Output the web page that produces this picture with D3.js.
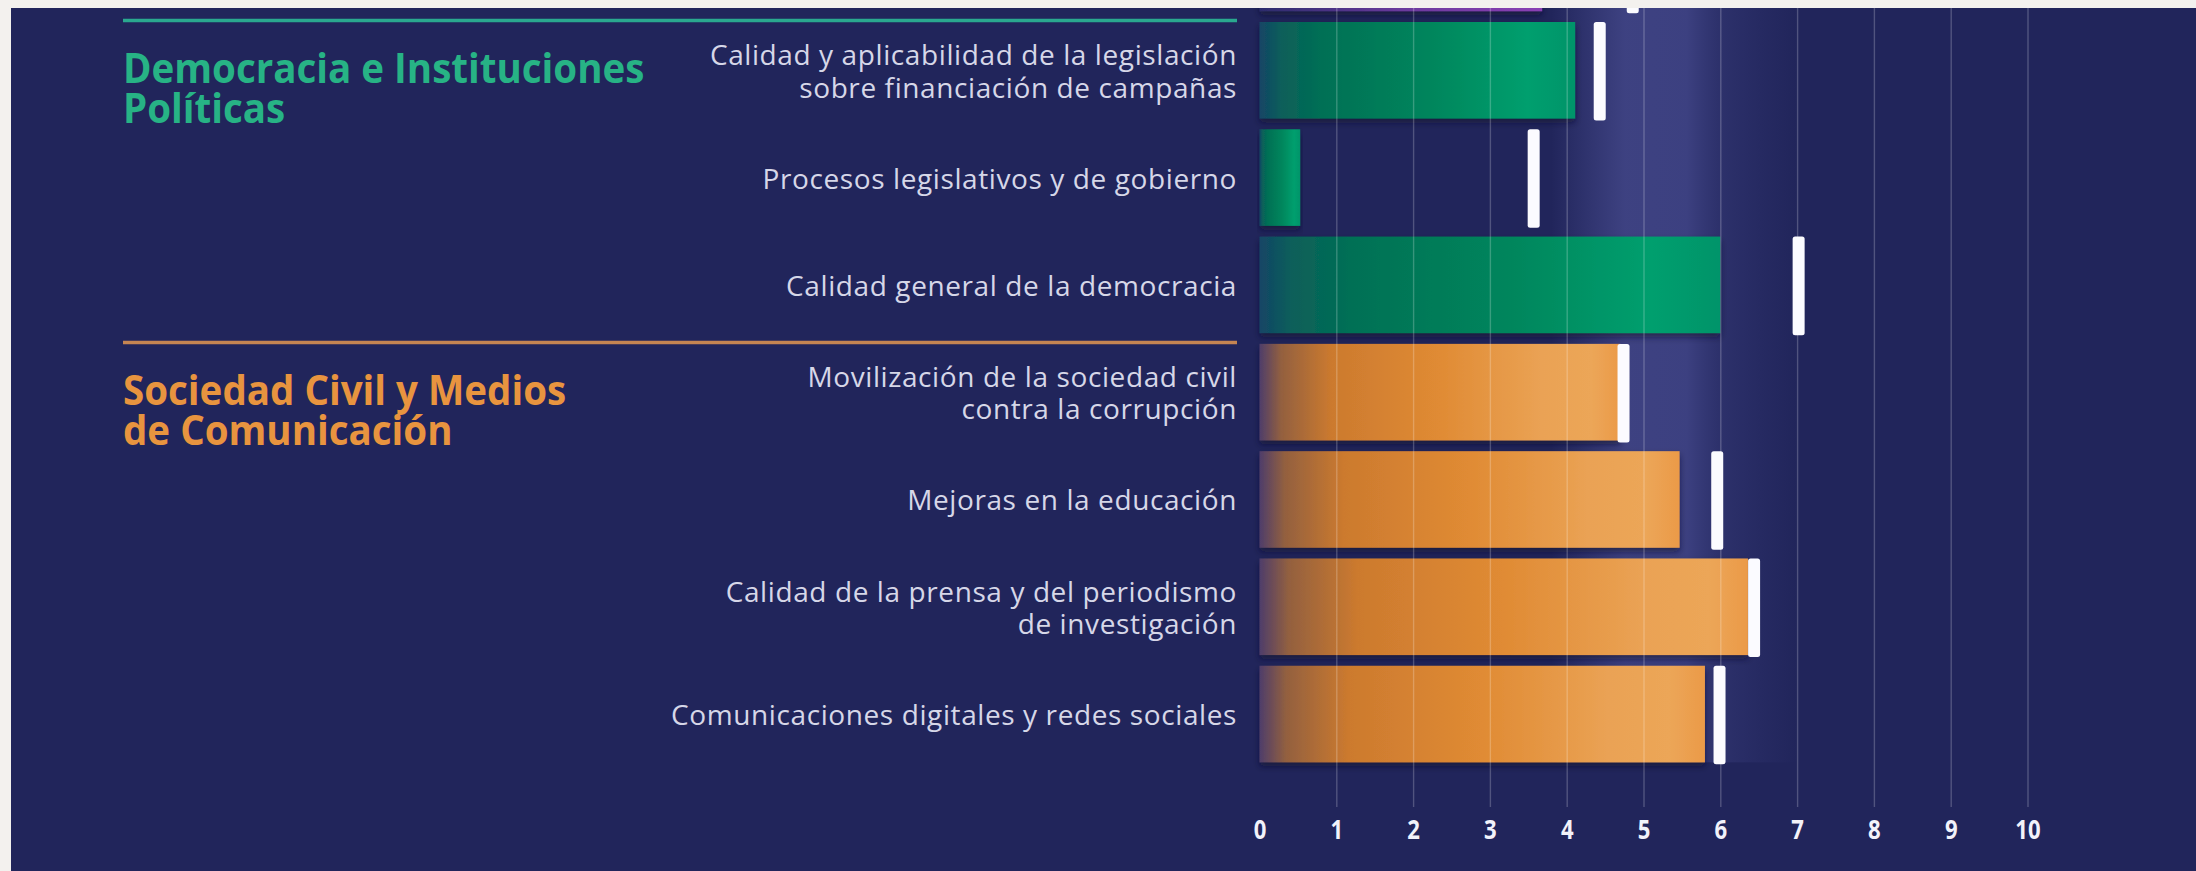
<!DOCTYPE html>
<html>
<head>
<meta charset="utf-8">
<script src="https://cdn.jsdelivr.net/npm/d3@7"></script>
<style>
  html, body { margin: 0; padding: 0; background: #f3f1ee; }
  svg { display: block; }
</style>
</head>
<body>
<div id="chart"></div>
<script>
// ------------------------------------------------------------
// 1. Data
// ------------------------------------------------------------
// first row is the tail of the block above, its label is cut off
const categories = [
  "",
  "Calidad y aplicabilidad de la legislación sobre financiación de campañas",
  "Procesos legislativos y de gobierno",
  "Calidad general de la democracia",
  "Movilización de la sociedad civil contra la corrupción",
  "Mejoras en la educación",
  "Calidad de la prensa y del periodismo de investigación",
  "Comunicaciones digitales y redes sociales"
];
const labelLines = [
  [],
  ["Calidad y aplicabilidad de la legislación", "sobre financiación de campañas"],
  ["Procesos legislativos y de gobierno"],
  ["Calidad general de la democracia"],
  ["Movilización de la sociedad civil", "contra la corrupción"],
  ["Mejoras en la educación"],
  ["Calidad de la prensa y del periodismo", "de investigación"],
  ["Comunicaciones digitales y redes sociales"]
];
const groupOf = ["previo", "democracia", "democracia", "democracia",
                 "sociedad", "sociedad", "sociedad", "sociedad"];
const groups = ["democracia", "sociedad"];
const groupTitles = [
  ["Democracia e Instituciones", "Políticas"],
  ["Sociedad Civil y Medios", "de Comunicación"]
];
const scores = [3.68, 4.11, 0.53, 6.0, 4.7, 5.47, 6.36, 5.8];
const benchmarks = [4.86, 4.43, 3.57, 7.02, 4.74, 5.96, 6.44, 5.99];
const tickValues = [0, 1, 2, 3, 4, 5, 6, 7, 8, 9, 10];

// ------------------------------------------------------------
// 2. Setup
// ------------------------------------------------------------
const width = 2196;
const height = 871;
const panel = { x: 11, y: 8 };
const labelRight = 1237;
const gridBottom = 807;

const navy = "#21255b";
const groupColor = { democracia: "#27b385", sociedad: "#e8943f" };
const lineColor = { democracia: "#2aa88f", sociedad: "#c58552" };
const barFill = { previo: "url(#gPurple)", democracia: "url(#gGreen)", sociedad: "url(#gOrange)" };

const x = d3.scaleLinear().domain([0, 10]).range([1259.5, 2027.5]);
const y = d3.scaleBand()
  .domain(categories.map((d, i) => i))
  .range([-90.67, 767.7])
  .paddingInner(0.1)
  .paddingOuter(0.05);

const svg = d3.select("#chart").append("svg")
  .attr("width", width)
  .attr("height", height);

const defs = svg.append("defs");

defs.append("clipPath").attr("id", "panelClip")
  .append("rect")
  .attr("x", panel.x).attr("y", panel.y)
  .attr("width", width - panel.x).attr("height", height - panel.y);

// bar gradients follow each bar's own length (bounding box units)
function gradient(id, stops, x1, x2) {
  const g = defs.append("linearGradient").attr("id", id);
  if (x1 !== undefined) {
    g.attr("gradientUnits", "userSpaceOnUse")
      .attr("x1", x1).attr("x2", x2).attr("y1", 0).attr("y2", 0);
  }
  stops.forEach(s => {
    g.append("stop").attr("offset", s[0]).attr("stop-color", s[1])
      .attr("stop-opacity", s[2] === undefined ? 1 : s[2]);
  });
}

gradient("gGreen", [
  [0, "#144566"], [0.07, "#0b5f5a"], [0.2, "#007055"],
  [0.55, "#00865c"], [0.85, "#009f6e"], [1, "#00946a"]
]);
gradient("gOrange", [
  [0, "#4e3d6a"], [0.06, "#93603f"], [0.2, "#cc7a2e"],
  [0.5, "#e08b34"], [0.78, "#eaa254"], [0.92, "#eca658"], [1, "#eb9a48"]
]);
gradient("gPurple", [
  [0, "#2c2c6c"], [0.5, "#6a3a9c"], [1, "#8a40b4"]
]);
gradient("gGlow", [
  [0, "#4a4e92", 0], [0.3, "#474b8e", 0.75], [0.55, "#43478a", 0.8],
  [0.68, "#3c4080", 0.45], [0.85, "#3a3e7e", 0.2], [1, "#3a3e7e", 0]
], x(3.8), x(7));

const shadow = defs.append("filter").attr("id", "shadow")
  .attr("x", "-5%").attr("y", "-20%").attr("width", "110%").attr("height", "150%");
shadow.append("feDropShadow")
  .attr("dx", 0).attr("dy", 4).attr("stdDeviation", 3)
  .attr("flood-color", "#0c0e2e").attr("flood-opacity", 0.6);

// ------------------------------------------------------------
// 3. Background panel and glow
// ------------------------------------------------------------
svg.append("rect")
  .attr("x", panel.x).attr("y", panel.y)
  .attr("width", width - panel.x).attr("height", height - panel.y)
  .attr("fill", navy);

const plot = svg.append("g").attr("clip-path", "url(#panelClip)");

plot.append("rect")
  .attr("x", x(3.8)).attr("y", panel.y)
  .attr("width", x(7) - x(3.8))
  .attr("height", y(categories.length - 1) + y.bandwidth() - panel.y)
  .attr("fill", "url(#gGlow)");

// ------------------------------------------------------------
// 4. Bars, grid, markers
// ------------------------------------------------------------
plot.append("g").selectAll("rect")
  .data(scores)
  .join("rect")
  .attr("x", x(0))
  .attr("y", (d, i) => y(i))
  .attr("width", d => x(d) - x(0))
  .attr("height", y.bandwidth())
  .attr("fill", (d, i) => barFill[groupOf[i]])
  .attr("filter", "url(#shadow)");

// grid lines: d3 axis with long inner ticks, no line at 0
const grid = plot.append("g")
  .attr("transform", `translate(0,${gridBottom})`)
  .call(d3.axisBottom(x).tickValues(tickValues.filter(t => t > 0))
    .tickSize(-(gridBottom - panel.y)).tickFormat(""));
grid.select(".domain").remove();
grid.selectAll("line")
  .attr("stroke", "#ffffff")
  .attr("stroke-opacity", 0.22)
  .attr("stroke-width", 1.4);

plot.append("g").selectAll("rect")
  .data(benchmarks)
  .join("rect")
  .attr("x", d => x(d) - 6)
  .attr("y", (d, i) => y(i))
  .attr("width", 12)
  .attr("height", y.bandwidth() + 2)
  .attr("rx", 2.5)
  .attr("fill", "#fbfbff");

// ------------------------------------------------------------
// 5. Axis labels
// ------------------------------------------------------------
const axis = plot.append("g")
  .attr("transform", `translate(0,${gridBottom})`)
  .call(d3.axisBottom(x).tickValues(tickValues).tickSize(0).tickPadding(13));
axis.select(".domain").remove();
axis.selectAll("text")
  .attr("fill", "#f2f2fa")
  .attr("font-family", "'Open Sans', sans-serif")
  .attr("font-weight", 700)
  .attr("font-size", 27)
  .attr("transform", "scale(0.82,1)");

// ------------------------------------------------------------
// 6. Row labels
// ------------------------------------------------------------
const labels = plot.append("g").selectAll("g")
  .data(labelLines)
  .join("g")
  .attr("transform", (d, i) => `translate(${labelRight},${y(i) + y.bandwidth() / 2 + 11})`);

labels.selectAll("text")
  .data(d => d.map((t, j) => ({ t, j, n: d.length })))
  .join("text")
  .attr("y", d => (d.j - (d.n - 1) / 2) * 32.5)
  .attr("text-anchor", "end")
  .attr("fill", "#d6d7e8")
  .attr("font-family", "'Open Sans', sans-serif")
  .attr("font-size", 28)
  .attr("letter-spacing", 0.6)
  .text(d => d.t);

// ------------------------------------------------------------
// 7. Group headings and separators
// ------------------------------------------------------------
groups.forEach((g, gi) => {
  const first = groupOf.indexOf(g);
  const top = y(first) - 1.5;

  plot.append("line")
    .attr("x1", 123).attr("x2", labelRight)
    .attr("y1", top).attr("y2", top)
    .attr("stroke", lineColor[g])
    .attr("stroke-width", 3.5);

  plot.append("g")
    .attr("transform", `translate(123,${y(first) + y.bandwidth() / 2 + 13}) scale(0.94,1)`)
    .selectAll("text")
    .data(groupTitles[gi])
    .join("text")
    .attr("y", (d, j) => j * 40)
    .attr("fill", groupColor[g])
    .attr("font-family", "'Open Sans', sans-serif")
    .attr("font-weight", 700)
    .attr("font-size", 41)
    .text(d => d);
});
</script>
</body>
</html>
